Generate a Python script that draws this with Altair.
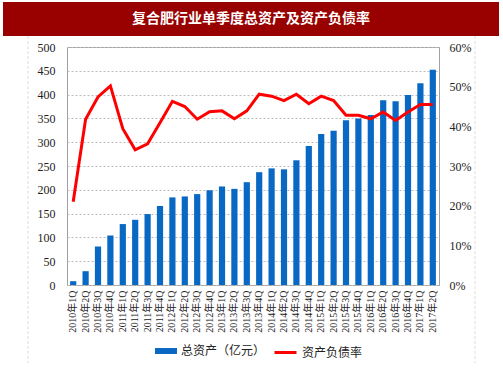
import altair as alt
import pandas as pd

quarters = [f"{y}年{q}Q" for y in range(2010, 2018) for q in range(1, 5)][:30]
total_assets = [8, 29, 81, 104, 128, 137, 149, 166, 184, 186, 191, 199, 207, 202, 216,
                237, 245, 243, 262, 292, 317, 324, 346, 350, 357, 388, 386, 399, 424, 452]
debt_ratio = [21.0, 41.8, 47.4, 50.2, 39.4, 34.1, 35.6, 40.9, 46.3, 45.0, 41.8, 43.7, 43.9,
              41.9, 43.9, 48.1, 47.6, 46.5, 48.1, 45.7, 47.6, 46.5, 42.8, 42.8, 41.9, 43.6,
              41.5, 43.6, 45.5, 45.5]

df = pd.DataFrame({
    "q": quarters,
    "assets": total_assets,
    "ratio": [r / 100 for r in debt_ratio],
    "s1": "总资产（亿元）",
    "s2": "资产负债率",
})

SERIF = "Liberation Serif, Noto Sans CJK SC"
CJK = "Noto Sans CJK SC"

xenc = alt.X("q:N", sort=quarters, title=None,
             scale=alt.Scale(paddingInner=0.5, paddingOuter=0.25),
             axis=alt.Axis(labelAngle=270, labelFont=SERIF, labelFontSize=10,
                           labelColor="#222", labelPadding=5, ticks=False, domain=False,
                           labelAlign="right", labelBaseline="middle"))

bars = alt.Chart(df).mark_bar(color="#0868C4").encode(
    x=xenc,
    y=alt.Y("assets:Q", title=None,
            scale=alt.Scale(domain=[0, 500], nice=False),
            axis=alt.Axis(orient="left", values=list(range(0, 501, 50)), labelFont=SERIF,
                          labelFontSize=12, labelColor="#222", labelPadding=12, ticks=False,
                          domain=False, grid=True, gridDash=[2, 2], gridColor="#BBBBBB")),
    fill=alt.Fill("s1:N", title=None,
                  scale=alt.Scale(domain=["总资产（亿元）"], range=["#0868C4"]),
                  legend=alt.Legend(orient="none", legendX=88, legendY=293,
                                    symbolType="M-1,-0.27H1V0.27H-1Z", symbolSize=484,
                                    symbolStrokeWidth=0, labelFont=CJK, labelFontSize=12,
                                    labelColor="#222", labelOffset=4, padding=0)),
)

line = alt.Chart(df).mark_line(strokeWidth=3).encode(
    x=alt.X("q:N", sort=quarters),
    y=alt.Y("ratio:Q", title=None,
            scale=alt.Scale(domain=[0, 0.6], nice=False),
            axis=alt.Axis(orient="right", values=[0, 0.1, 0.2, 0.3, 0.4, 0.5, 0.6],
                          format=".0%", labelFont=SERIF, labelFontSize=12, labelColor="#222",
                          labelPadding=10, ticks=False, domain=False, grid=False)),
    stroke=alt.Stroke("s2:N", title=None,
                      scale=alt.Scale(domain=["资产负债率"], range=["#FF0000"]),
                      legend=alt.Legend(orient="none", legendX=206, legendY=293,
                                        symbolType="stroke", symbolSize=484,
                                        symbolStrokeWidth=3, labelFont=CJK, labelFontSize=12,
                                        labelColor="#222", labelOffset=4, padding=0)),
)

one = alt.Data(values=[{"t": "复合肥行业单季度总资产及资产负债率"}])

title_bg = alt.Chart(one).mark_rect(color="#990000").encode(
    x=alt.value(-64), x2=alt.value(432), y=alt.value(-45), y2=alt.value(-11))
title_txt = alt.Chart(one).mark_text(color="white", font=CJK, fontSize=14,
                                     fontWeight="bold", align="center",
                                     baseline="middle").encode(
    x=alt.value(184), y=alt.value(-28), text="t:N")
frame = alt.Chart(alt.Data(values=[{"v": -39}, {"v": 408}])).mark_rule(
    color="#DDDDDD", strokeWidth=1, strokeDash=[3, 2]).encode(
    x=alt.X("v:Q", scale=None), y=alt.value(-11), y2=alt.value(316))

chart = alt.layer(frame, bars, line, title_bg, title_txt).resolve_scale(
    y="independent", fill="independent", stroke="independent"
).properties(
    width=372, height=238,
    padding={"left": 67, "top": 47, "right": 64, "bottom": 93},
    autosize=alt.AutoSizeParams(type="none"),
    background="white",
).configure_view(stroke="#A0A0A0", strokeWidth=1)

chart.save("out.html", embed_options={"renderer": "svg", "actions": False})
